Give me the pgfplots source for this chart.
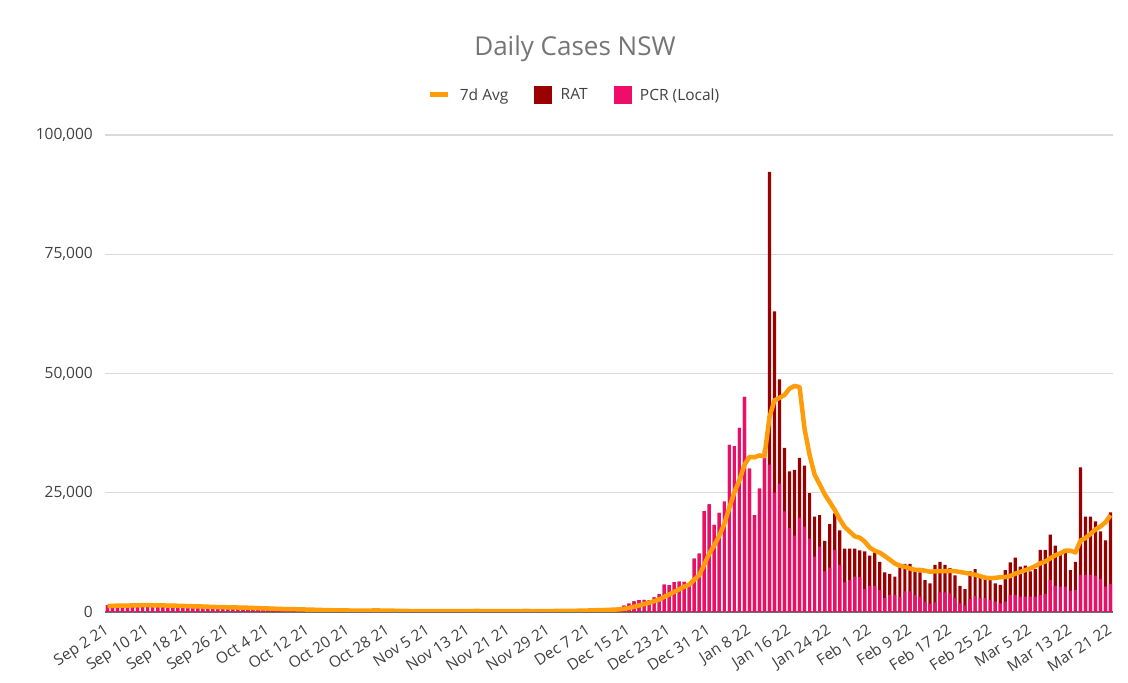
\documentclass[border=0pt]{standalone}
\usepackage{pgfplots}
\pgfplotsset{compat=1.18}
\usepackage{pgfplotstable}
\usepackage{fontspec}
\setmainfont{Open Sans}
\definecolor{rat}{HTML}{9A0000}
\definecolor{pcr}{HTML}{EE0E6A}
\definecolor{avgc}{HTML}{FF9C0A}
\definecolor{gridc}{HTML}{D9D9D9}
\definecolor{axisc}{HTML}{6E6E6E}
\definecolor{txt}{HTML}{404040}
\definecolor{ttl}{HTML}{757575}
\pgfplotstableread{
x tot pcr avg
0 1431 1431 1220
1 1533 1533 1291
2 1485 1485 1330
3 1281 1281 1328
4 1220 1220 1336
5 1480 1480 1388
6 1405 1405 1405
7 1542 1542 1421
8 1599 1599 1430
9 1262 1262 1398
10 1257 1257 1395
11 1127 1127 1382
12 1259 1259 1350
13 1351 1351 1342
14 1284 1284 1306
15 1331 1331 1267
16 1083 1083 1242
17 935 935 1196
18 1022 1022 1181
19 1035 1035 1149
20 1063 1063 1108
21 1043 1043 1073
22 1007 1007 1027
23 961 961 1009
24 787 787 988
25 863 863 966
26 864 864 941
27 941 941 924
28 813 813 891
29 667 667 842
30 623 623 794
31 667 667 777
32 608 608 740
33 587 587 701
34 646 646 659
35 580 580 625
36 580 580 613
37 477 477 592
38 496 496 568
39 360 360 532
40 444 444 512
41 406 406 478
42 399 399 452
43 319 319 414
44 301 301 389
45 265 265 356
46 273 273 344
47 283 283 321
48 372 372 316
49 345 345 308
50 332 332 310
51 296 296 309
52 282 282 312
53 294 294 315
54 304 304 318
55 268 268 303
56 177 177 279
57 236 236 265
58 173 173 248
59 135 135 227
60 176 176 210
61 173 173 191
62 308 308 197
63 216 216 202
64 187 187 195
65 185 185 197
66 140 140 198
67 167 167 197
68 222 222 204
69 250 250 195
70 261 261 202
71 206 206 204
72 190 190 205
73 173 173 210
74 180 180 212
75 167 167 204
76 206 206 198
77 261 261 198
78 256 256 205
79 179 179 203
80 141 141 199
81 180 180 199
82 201 201 203
83 250 250 210
84 261 261 210
85 185 185 200
86 150 150 195
87 149 149 197
88 202 202 200
89 271 271 210
90 276 276 213
91 337 337 224
92 325 325 244
93 208 208 253
94 260 260 268
95 403 403 297
96 420 420 318
97 516 516 353
98 560 560 385
99 536 536 415
100 485 485 454
101 536 536 494
102 804 804 551
103 1360 1360 685
104 1742 1742 860
105 2213 2213 1097
106 2482 2482 1375
107 2566 2566 1672
108 2501 2501 1953
109 3057 3057 2274
110 3763 3763 2618
111 5715 5715 3185
112 5612 5612 3671
113 6288 6288 4215
114 6394 6394 4761
115 6324 6324 5308
116 6062 6062 5737
117 11201 11201 6799
118 12226 12226 7730
119 21151 21151 9949
120 22577 22577 12276
121 18278 18278 13974
122 20794 20794 16041
123 23131 23131 18480
124 35054 35054 21887
125 34759 34759 25106
126 38625 38625 27603
127 45098 45098 30820
128 30062 30062 32503
129 20293 20293 32432
130 25870 25870 32823
131 34000 34000 32672
132 92264 30900 40887
133 63018 25000 44372
134 48768 26900 44896
135 34400 21100 45516
136 29500 17600 46831
137 29800 16000 47393
138 32300 19800 47150
139 30700 17900 38355
140 24900 15400 32910
141 20000 11600 28800
142 20300 13700 26786
143 14900 8500 24700
144 18400 9300 23071
145 20700 13000 21414
146 17100 9900 19471
147 13300 6200 17814
148 13300 6700 16857
149 13300 7400 15857
150 12900 7300 15571
151 12700 4800 14757
152 11800 5500 13486
153 12500 5500 12829
154 10500 4600 12429
155 8300 2900 11714
156 8000 3600 10957
157 7400 3600 10171
158 9500 3100 9714
159 10100 4300 9471
160 10100 4300 9129
161 8500 3600 8843
162 8300 3200 8843
163 6700 2200 8657
164 6000 1700 8457
165 9900 2000 8514
166 10500 4100 8571
167 9900 4100 8543
168 9200 3900 8643
169 7700 2900 8557
170 5500 1800 8386
171 4800 1400 8214
172 8500 2700 8014
173 9000 3400 7800
174 7800 2900 7500
175 7100 2900 7200
176 6900 2500 7086
177 6000 2200 7157
178 5700 1800 7286
179 8800 2200 7329
180 10400 3600 7529
181 11400 3600 8043
182 9500 3200 8386
183 9700 3200 8786
184 8500 3200 9143
185 9000 3200 9614
186 13000 3600 10214
187 13000 3800 10586
188 16200 6700 11271
189 13900 5500 11900
190 12500 5300 12300
191 12500 5300 12871
192 8800 4500 12843
193 10500 4600 12486
194 30300 7800 14957
195 20000 7800 15500
196 20000 7800 16371
197 19000 7600 17300
198 16900 6900 17929
199 15000 5300 18814
200 20900 5900 20300
}\data
\begin{document}
\begin{tikzpicture}
\useasboundingbox (0,0) rectangle (1128bp,683bp);
\begin{axis}[
  at={(105bp,71bp)}, anchor=south west,
  scale only axis, width=1008bp, height=477bp,
  xmin=-0.5, xmax=200.5, ymin=0, ymax=100000,
  axis lines*=left,
  y axis line style={draw=none},
  x axis line style={draw=axisc, line width=1.3bp, -},
  major tick length=0pt,
  ytick={0,25000,50000,75000,100000},
  yticklabels={0,{25,000},{50,000},{75,000},{100,000}},
  ymajorgrids, grid style={draw=gridc, line width=1.1bp},
  scaled y ticks=false,
  yticklabel style={font=\fontsize{15.5bp}{18bp}\selectfont, text=txt, anchor=east, inner sep=0pt, xshift=-12bp},
  xtick={0,8,...,200},
  xticklabels={Sep 2 21, Sep 10 21, Sep 18 21, Sep 26 21, Oct 4 21, Oct 12 21, Oct 20 21, Oct 28 21, Nov 5 21, Nov 13 21, Nov 21 21, Nov 29 21, Dec 7 21, Dec 15 21, Dec 23 21, Dec 31 21, Jan 8 22, Jan 16 22, Jan 24 22, Feb 1 22, Feb 9 22, Feb 17 22, Feb 25 22, Mar 5 22, Mar 13 22, Mar 21 22},
  xticklabel style={font=\fontsize{15.5bp}{18bp}\selectfont, text=txt, inner sep=0pt, xshift=-4bp, yshift=-11bp, rotate=33, anchor=north east},
  legend style={at={(0.4658,1.0839)}, anchor=center, draw=none, fill=none, legend columns=3,
    font=\fontsize{15.5bp}{18bp}\selectfont, text=txt,
    /tikz/every odd column/.append style={column sep=7bp},
    /tikz/every even column/.append style={column sep=24bp}},
]
\addplot[ybar, bar width=3.2bp, bar shift=0pt, fill=rat, draw=none, forget plot] table[x=x,y=tot]{\data};
\addplot[ybar, bar width=3.2bp, bar shift=0pt, fill=pcr, draw=none, forget plot] table[x=x,y=pcr]{\data};
\addplot[avgc, line width=4.5bp, line join=round, forget plot] table[x=x,y=avg]{\data};
\addlegendimage{legend image code/.code={\draw[avgc, line width=5bp] (0bp,0bp) -- (18bp,0bp);}}
\addlegendentry{7d Avg}
\addlegendimage{legend image code/.code={\fill[rat] (0bp,-8.5bp) rectangle (17bp,8.5bp);}}
\addlegendentry{RAT}
\addlegendimage{legend image code/.code={\fill[pcr] (0bp,-8.5bp) rectangle (17bp,8.5bp);}}
\addlegendentry{PCR (Local)}
\end{axis}
\node[anchor=base, font=\fontsize{26bp}{30bp}\selectfont, text=ttl] at (575bp,627bp) {Daily Cases NSW};
\end{tikzpicture}
\end{document}
